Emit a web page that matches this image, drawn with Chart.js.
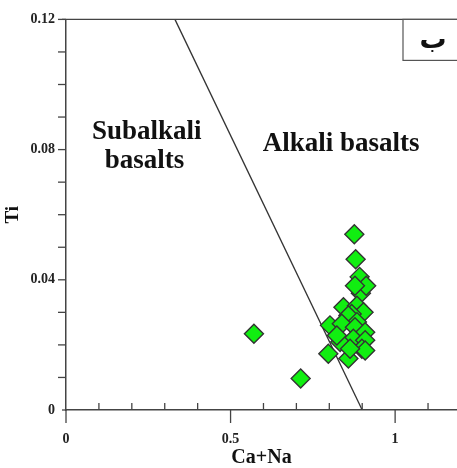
<!DOCTYPE html>
<html>
<head>
<meta charset="utf-8">
<script src="https://cdn.jsdelivr.net/npm/chart.js@4"></script>
<style>
  html, body { margin: 0; padding: 0; background: #fff; }
  #wrap { width: 457px; height: 468px; }
</style>
</head>
<body>
<div id="wrap"><canvas id="c" width="457" height="468"></canvas></div>
<script>
// ---- data ----
const caNa = [0.876, 0.880, 0.892, 0.896, 0.912, 0.878, 0.571, 0.713,
              0.843, 0.884, 0.904, 0.868, 0.858, 0.884, 0.802, 0.838, 0.878,
              0.909, 0.873, 0.909, 0.833, 0.899, 0.797, 0.858, 0.909, 0.823, 0.863];
const ti   = [0.0540, 0.0463, 0.0409, 0.0359, 0.0382, 0.0382, 0.0234, 0.0097,
              0.0316, 0.0320, 0.0300, 0.0295, 0.0290, 0.0270, 0.0260, 0.0265, 0.0254,
              0.0239, 0.0219, 0.0214, 0.0209, 0.0188, 0.0173, 0.0158, 0.0183, 0.0229, 0.0188];
const boundaryX = [0.331, 0.900];
const boundaryY = [0.120, 0.000];
const xTicks = [0, 0.5, 1];
const yTicks = [0, 0.04, 0.08, 0.12];
const fieldLabels = ['Subalkali', 'basalts', 'Alkali basalts'];
const panelLabel = 'ب';

const points = caNa.map((v, i) => ({ x: v, y: ti[i] }));
const boundary = boundaryX.map((v, i) => ({ x: v, y: boundaryY[i] }));

const serif = "'Liberation Serif', 'Times New Roman', serif";
const axisColor = '#444';

const decor = {
  id: 'decor',
  afterDraw(chart) {
    const { ctx, chartArea: { left, top, right, bottom }, scales: { x, y } } = chart;
    ctx.save();
    ctx.strokeStyle = axisColor;
    ctx.lineWidth = 1.3;
    const line = (a, b, c, d) => { ctx.beginPath(); ctx.moveTo(a, b); ctx.lineTo(c, d); ctx.stroke(); };
    // top frame line
    line(left - 4, top, right, top);
    // y ticks every 0.01 (outside, left)
    for (let i = 1; i <= 12; i++) {
      const py = y.getPixelForValue(i / 100);
      line(left - 8, py, left, py);
    }
    line(left - 4, bottom, left, bottom);
    // x minor ticks (inside)
    for (let i = 1; i <= 11; i++) {
      if (i === 5 || i === 10) continue;
      const px = x.getPixelForValue(i / 10);
      line(px, bottom, px, bottom - 7);
    }
    // x major ticks (outside)
    xTicks.forEach(v => {
      const px = x.getPixelForValue(v);
      line(px, bottom, px, bottom + 13);
    });
    // panel label box
    ctx.lineWidth = 1.2;
    ctx.strokeStyle = '#555';
    ctx.strokeRect(right - 54, top, 60, 41);
    ctx.fillStyle = '#111';
    ctx.font = "bold 27px 'DejaVu Sans', sans-serif";
    ctx.textAlign = 'center';
    ctx.textBaseline = 'middle';
    ctx.fillText(panelLabel, right - 24, top + 22);
    // field labels
    ctx.font = 'bold 27px ' + serif;
    ctx.textBaseline = 'alphabetic';
    ctx.textAlign = 'left';
    ctx.fillText(fieldLabels[0], x.getPixelForValue(0.079), y.getPixelForValue(0.0834));
    ctx.fillText(fieldLabels[1], x.getPixelForValue(0.118), y.getPixelForValue(0.0745));
    ctx.fillText(fieldLabels[2], x.getPixelForValue(0.598), y.getPixelForValue(0.0797));
    ctx.restore();
  }
};

new Chart(document.getElementById('c'), {
  type: 'scatter',
  data: {
    datasets: [
      {
        data: points,
        pointStyle: 'rectRot',
        pointRadius: 9.5,
        pointHoverRadius: 9.5,
        backgroundColor: '#11ee11',
        borderColor: '#333',
        borderWidth: 1.4
      },
      {
        data: boundary,
        showLine: true,
        pointRadius: 0,
        borderColor: '#333',
        borderWidth: 1.3,
        fill: false
      }
    ]
  },
  options: {
    responsive: false,
    animation: false,
    events: [],
    layout: { autoPadding: false, padding: { top: 17, right: 0, bottom: 0, left: 0 } },
    plugins: { legend: { display: false }, tooltip: { enabled: false } },
    scales: {
      x: {
        type: 'linear',
        min: 0,
        max: 1.188,
        afterFit(s) { s.height = 58; },
        grid: { display: false, drawTicks: false },
        border: { display: true, color: axisColor, width: 1.5 },
        ticks: {
          stepSize: xTicks[1] - xTicks[0],
          includeBounds: false,
          padding: 21,
          color: '#222',
          font: { family: serif, size: 14, weight: 'bold' },
          callback: v => (xTicks.includes(v) ? String(v) : '')
        },
        title: {
          display: true,
          text: 'Ca+Na',
          color: '#111',
          padding: { top: 0, bottom: 0 },
          font: { family: serif, size: 20, weight: 'bold', lineHeight: 1 }
        }
      },
      y: {
        type: 'linear',
        min: 0,
        max: 0.12,
        afterFit(s) { s.width = 66; },
        grid: { display: false, drawTicks: false },
        border: { display: true, color: axisColor, width: 1.5 },
        ticks: {
          stepSize: yTicks[1] - yTicks[0],
          padding: 11,
          color: '#222',
          font: { family: serif, size: 14, weight: 'bold' },
          callback: v => {
            const m = yTicks.find(t => Math.abs(t - v) < 1e-9);
            return m === undefined ? '' : String(m);
          }
        },
        title: {
          display: true,
          text: 'Ti',
          color: '#111',
          padding: { top: 2, bottom: 0 },
          font: { family: serif, size: 19, weight: 'bold' }
        }
      }
    }
  },
  plugins: [decor]
});
</script>
</body>
</html>
